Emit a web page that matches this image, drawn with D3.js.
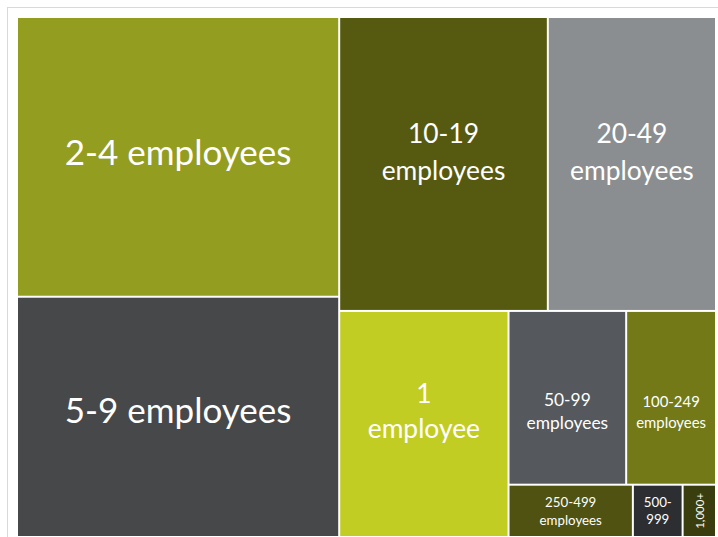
<!DOCTYPE html>
<html><head><meta charset="utf-8">
<script src="https://cdn.jsdelivr.net/npm/d3@7"></script>
<style>html,body{margin:0;padding:0;background:#fff;}svg{display:block;}</style>
</head><body>
<svg id="chart" width="718" height="537"></svg>
<script>
const categories = ["1 employee","2-4 employees","5-9 employees","10-19 employees","20-49 employees","50-99 employees","100-249 employees","250-499 employees","500-999","1,000+"];
const values = [10.3, 24.25, 20.83, 16.5, 13.3, 5.5, 4.2, 1.75, 0.7, 0.47];
const colors = ["#c2cd23","#939d1f","#47484a","#565a11","#8b8e91","#55585c","#737916","#4f5210","#2d2e31","#3a3d0d"];
// label style: font size, line height, first-baseline offset from cell centre
const labelFont = [26.4, 35, 35, 26.4, 26.4, 17.4, 14.9, 13.3, 13.3, 11.5];
const labelLine = [35, 0, 0, 37, 37, 23, 21, 18.3, 17.5, 0];
const labelOff  = [-20.5, 8, 6, -20.5, -20.5, 8, 9, -4.3, -4.3, 4.5];

const svg = d3.select("#chart");
svg.append("rect").attr("x",7.5).attr("y",7.5).attr("width",730).attr("height",540)
  .attr("fill","none").attr("stroke","#d9d9d9");

const data = {children: categories.map((c,i)=>({name:c, value:values[i], color:colors[i], idx:i}))};
const root = d3.hierarchy(data).sum(d=>d.value||0).sort((a,b)=>b.value-a.value);
d3.treemap().tile(d3.treemapSquarify.ratio(1)).size([697,518]).paddingInner(2)(root);

const plot = svg.append("g").attr("transform","translate(18,18)");
const g = plot.selectAll("g.cell").data(root.leaves()).join("g").attr("class","cell");
g.append("rect")
  .attr("x",d=>d.x0).attr("y",d=>d.y0)
  .attr("width",d=>d.x1-d.x0).attr("height",d=>d.y1-d.y0)
  .attr("fill",d=>d.data.color);

g.each(function(d){
  const sel = d3.select(this);
  const i = d.data.idx;
  const w = d.x1-d.x0, h = d.y1-d.y0;
  const cx = (d.x0+d.x1)/2, cy = (d.y0+d.y1)/2;
  const fs = labelFont[i];
  const rotate = w < 40;
  const t = sel.append("text")
    .attr("fill","#fff").attr("font-family","Lato, Carlito, 'Open Sans', sans-serif")
    .attr("font-size",fs).attr("text-anchor","middle");
  t.text(d.data.name);
  const single = t.node().getComputedTextLength();
  let lines = [d.data.name];
  const avail = rotate ? h*0.85 : w*0.75;
  if (single > avail && d.data.name.indexOf(" ")>0) {
    lines = d.data.name.split(" ");
  } else if (single > avail && d.data.name.indexOf("-")>0) {
    const k = d.data.name.indexOf("-");
    lines = [d.data.name.slice(0,k+1), d.data.name.slice(k+1)];
  }
  t.text(null);
  const lh = labelLine[i] || fs*1.4;
  const off = labelOff[i];
  lines.forEach((ln,j)=>{
    t.append("tspan").attr("x",0).attr("y",off+j*lh).text(ln);
  });
  t.attr("transform", `translate(${cx},${cy})` + (rotate?" rotate(-90)":""));
});
</script>
</body></html>
